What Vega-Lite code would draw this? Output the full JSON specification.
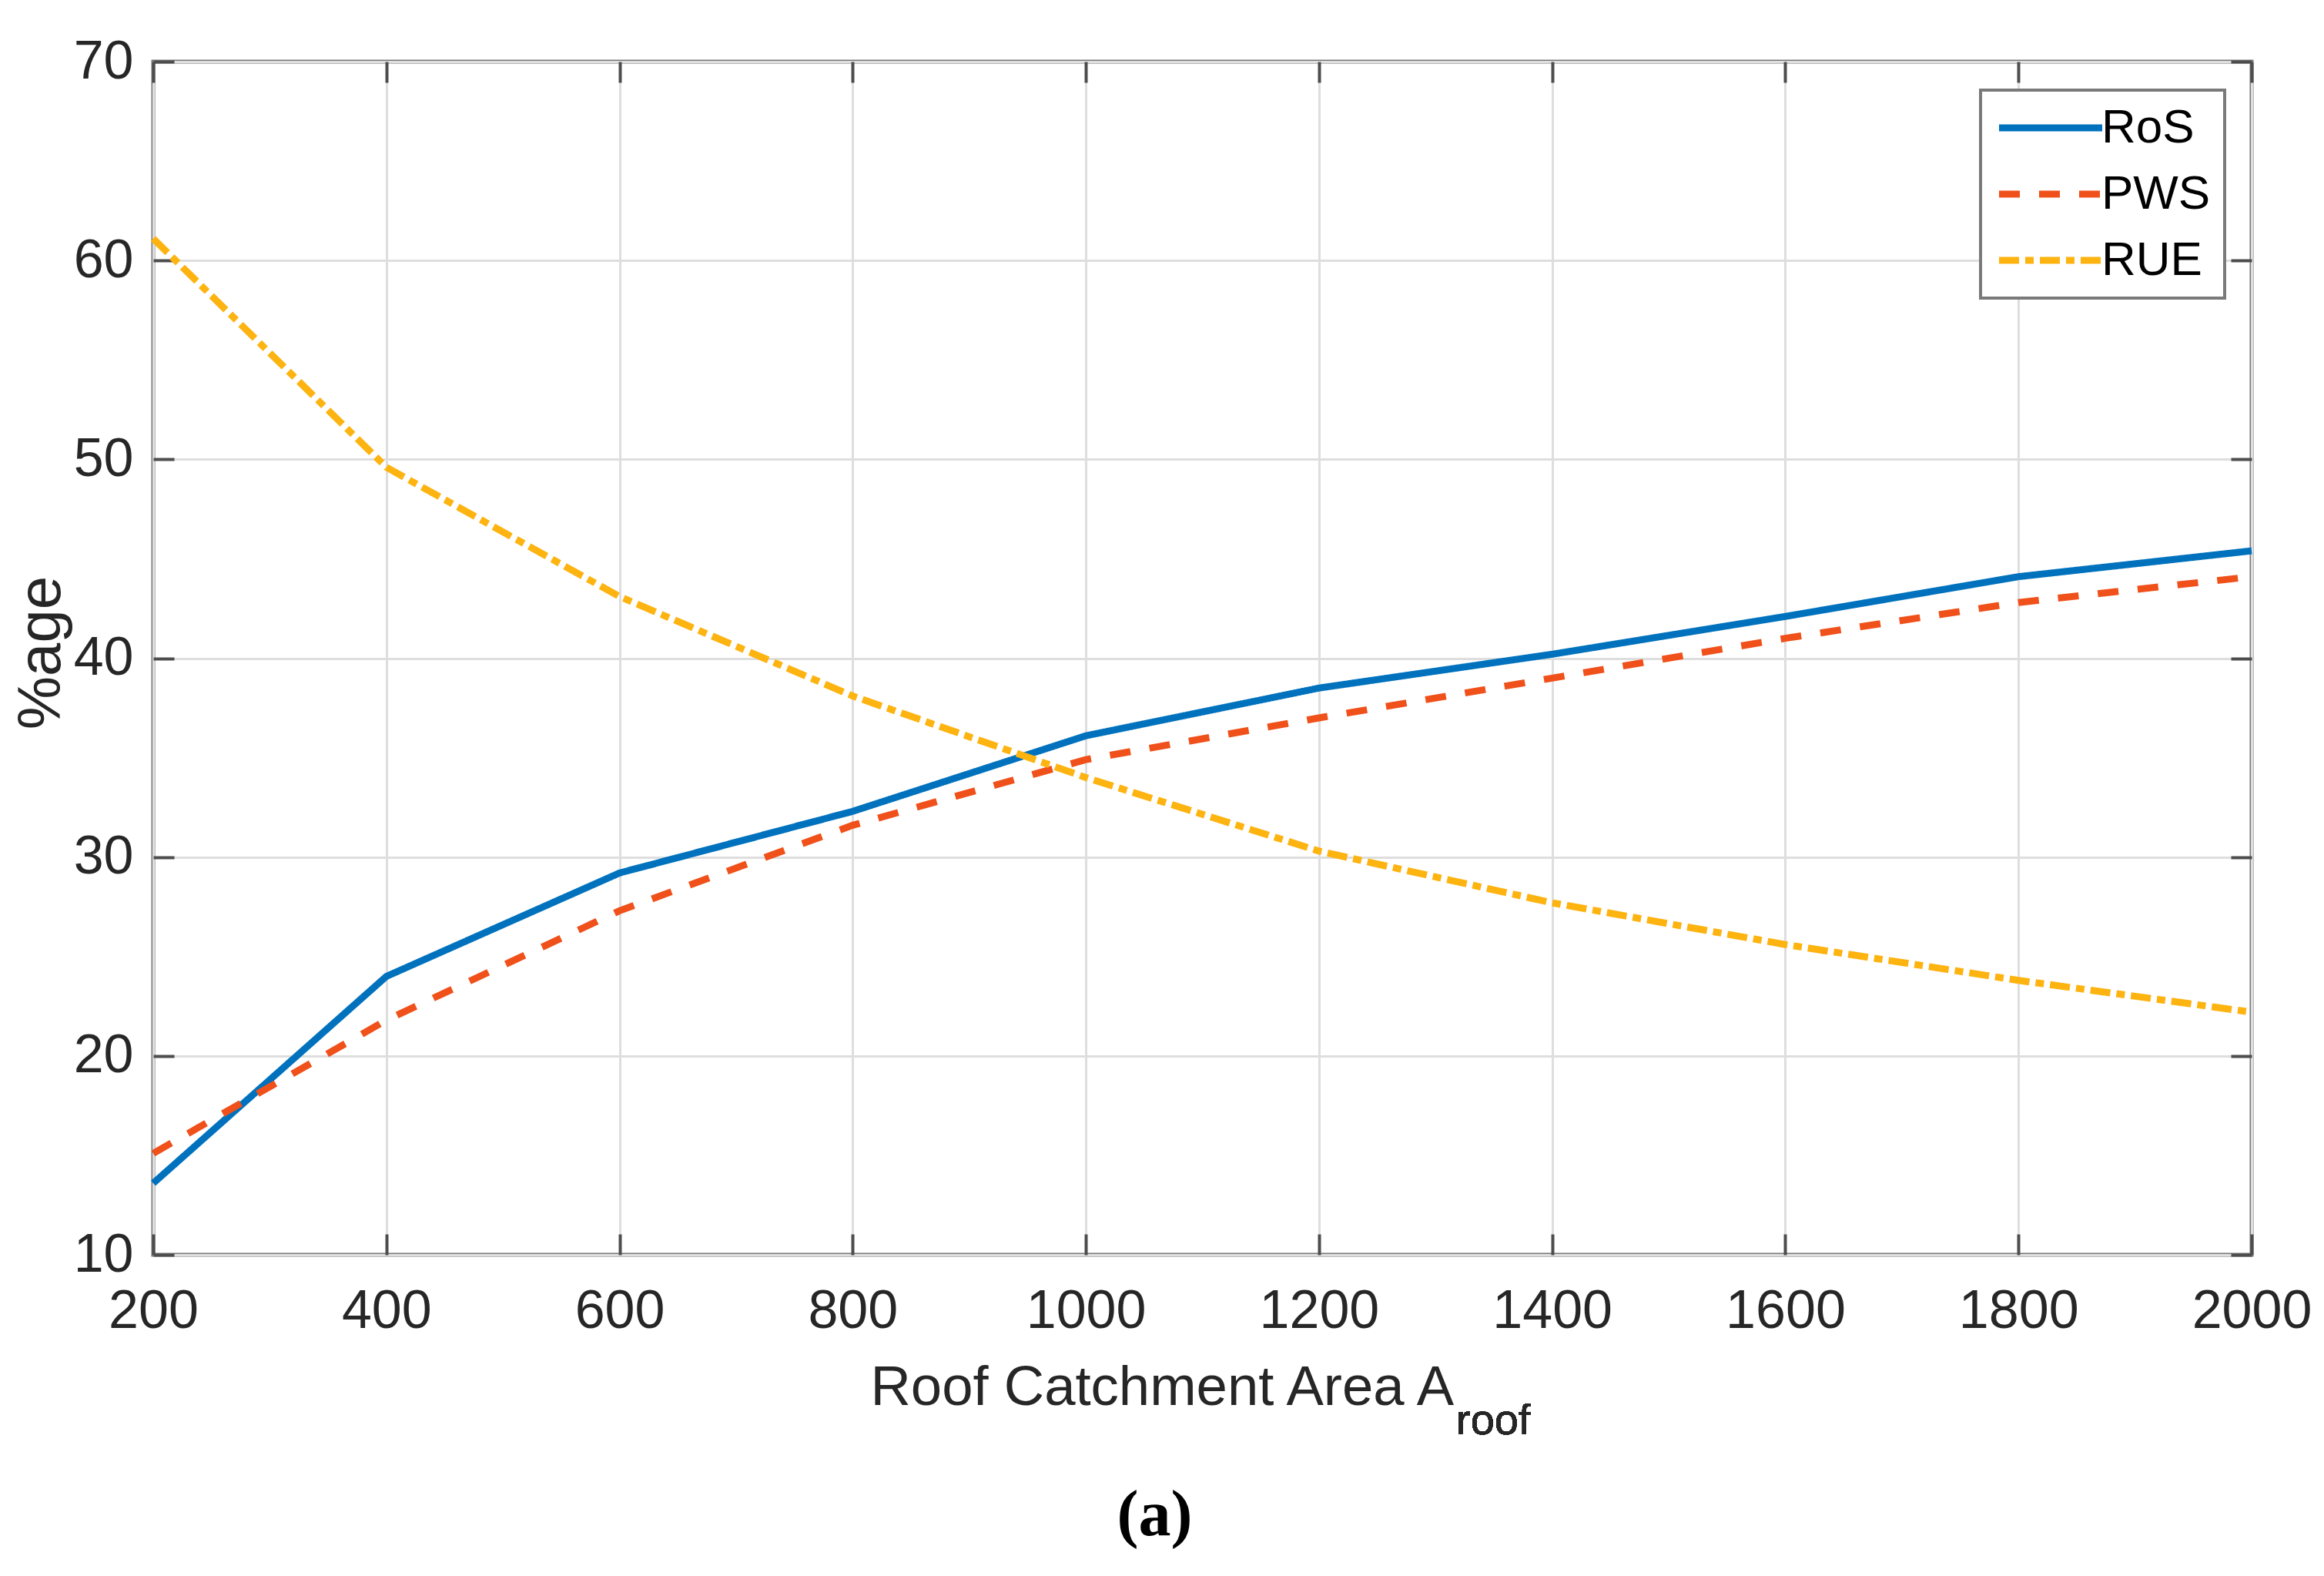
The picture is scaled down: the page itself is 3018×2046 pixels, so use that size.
{
  "$schema": "https://vega.github.io/schema/vega-lite/v6.json",
  "width": 2725,
  "height": 1549,
  "autosize": {"type": "none"},
  "padding": {"left": 199, "top": 80, "right": 94, "bottom": 417},
  "background": "white",
  "config": {
    "view": {"stroke": "#777777", "strokeWidth": 5},
    "font": "Liberation Sans",
    "legend": {"strokeWidth": 4}
  },
  "title": {
    "text": "(a)",
    "orient": "bottom",
    "anchor": "middle",
    "frame": "group",
    "font": "Liberation Serif",
    "fontSize": 84,
    "fontWeight": "bold",
    "color": "black",
    "dx": -62,
    "offset": 54
  },
  "data": {
    "values": [
      {"area": 200, "series": "RoS", "pct": 13.6},
      {"area": 400, "series": "RoS", "pct": 24.0},
      {"area": 600, "series": "RoS", "pct": 29.2},
      {"area": 800, "series": "RoS", "pct": 32.3},
      {"area": 1000, "series": "RoS", "pct": 36.1},
      {"area": 1200, "series": "RoS", "pct": 38.5},
      {"area": 1400, "series": "RoS", "pct": 40.2},
      {"area": 1600, "series": "RoS", "pct": 42.1},
      {"area": 1800, "series": "RoS", "pct": 44.1},
      {"area": 2000, "series": "RoS", "pct": 45.4},
      {"area": 200, "series": "PWS", "pct": 15.1},
      {"area": 400, "series": "PWS", "pct": 21.8},
      {"area": 600, "series": "PWS", "pct": 27.3},
      {"area": 800, "series": "PWS", "pct": 31.6},
      {"area": 1000, "series": "PWS", "pct": 34.9},
      {"area": 1200, "series": "PWS", "pct": 37.0},
      {"area": 1400, "series": "PWS", "pct": 39.0},
      {"area": 1600, "series": "PWS", "pct": 41.0},
      {"area": 1800, "series": "PWS", "pct": 42.8},
      {"area": 2000, "series": "PWS", "pct": 44.1},
      {"area": 200, "series": "RUE", "pct": 61.1},
      {"area": 400, "series": "RUE", "pct": 49.6},
      {"area": 600, "series": "RUE", "pct": 43.1},
      {"area": 800, "series": "RUE", "pct": 38.1},
      {"area": 1000, "series": "RUE", "pct": 34.0},
      {"area": 1200, "series": "RUE", "pct": 30.3},
      {"area": 1400, "series": "RUE", "pct": 27.7},
      {"area": 1600, "series": "RUE", "pct": 25.6},
      {"area": 1800, "series": "RUE", "pct": 23.8},
      {"area": 2000, "series": "RUE", "pct": 22.2}
    ]
  },
  "layer": [
    {
      "mark": {"type": "line", "strokeWidth": 9, "clip": false},
      "encoding": {
        "x": {
          "field": "area", "type": "quantitative",
          "scale": {"domain": [200, 2000], "nice": false, "zero": false},
          "axis": {
            "orient": "bottom",
            "values": [200, 400, 600, 800, 1000, 1200, 1400, 1600, 1800, 2000],
            "format": "d",
            "grid": true, "gridColor": "#dedede", "gridWidth": 3,
            "domain": false,
            "ticks": true, "tickSize": -27, "tickWidth": 4, "tickColor": "#4d4d4d",
            "labelFontSize": 70, "labelColor": "#262626", "labelPadding": 121,
            "labelBaseline": "alphabetic", "labelFlush": false, "labelOverlap": false,
            "title": "Roof Catchment Area A",
            "titleFontSize": 72.5, "titleFontWeight": "normal", "titleColor": "#262626",
            "titleX": 931, "titleY": 194, "titleAlign": "left", "titleBaseline": "alphabetic"
          }
        },
        "y": {
          "field": "pct", "type": "quantitative",
          "scale": {"domain": [10, 70], "nice": false, "zero": false},
          "axis": {
            "orient": "left",
            "values": [10, 20, 30, 40, 50, 60, 70],
            "format": "d",
            "grid": true, "gridColor": "#dedede", "gridWidth": 3,
            "domain": false,
            "ticks": true, "tickSize": -27, "tickWidth": 4, "tickColor": "#4d4d4d",
            "labelFontSize": 70, "labelColor": "#262626", "labelPadding": 53,
            "labelBaseline": "middle", "labelAlign": "right", "labelFlush": false, "labelOverlap": false,
            "title": "%age",
            "titleFontSize": 78, "titleFontWeight": "normal", "titleColor": "#262626",
            "titleX": -122, "titleY": 767, "titleAngle": 270, "titleAlign": "center", "titleBaseline": "alphabetic"
          }
        },
        "color": {
          "field": "series", "type": "nominal",
          "scale": {"domain": ["RoS", "PWS", "RUE"], "range": ["#0072BD", "#F0501A", "#FDB310"]},
          "legend": {
            "title": null, "orient": "none", "legendX": 2373, "legendY": 37,
            "fillColor": "white", "strokeColor": "#7a7a7a", "padding": 18,
            "symbolType": "M-1,0H4.36", "symbolSize": 2500, "symbolStrokeWidth": 9,
            "labelFontSize": 62, "labelOffset": 77, "labelColor": "black", "rowPadding": 24
          }
        },
        "strokeDash": {
          "field": "series", "type": "nominal",
          "scale": {"domain": ["RoS", "PWS", "RUE"], "range": [[1, 0], [27, 25], [26, 8, 11, 8]]},
          "legend": {
            "title": null, "orient": "none", "legendX": 2373, "legendY": 37,
            "fillColor": "white", "strokeColor": "#7a7a7a", "padding": 18,
            "symbolType": "M-1,0H4.36", "symbolSize": 2500, "symbolStrokeWidth": 9,
            "labelFontSize": 62, "labelOffset": 77, "labelColor": "black", "rowPadding": 24
          }
        }
      }
    },
    {
      "mark": {"type": "line", "strokeOpacity": 0, "clip": false},
      "encoding": {
        "x": {
          "field": "area", "type": "quantitative",
          "axis": {
            "orient": "top",
            "values": [200, 400, 600, 800, 1000, 1200, 1400, 1600, 1800, 2000],
            "grid": false, "domain": false, "labels": false, "title": null,
            "tickSize": -27, "tickWidth": 4, "tickColor": "#4d4d4d"
          }
        },
        "y": {
          "field": "pct", "type": "quantitative",
          "axis": {
            "orient": "right",
            "values": [10, 20, 30, 40, 50, 60, 70],
            "grid": false, "domain": false, "labels": false, "title": null,
            "tickSize": -27, "tickWidth": 4, "tickColor": "#4d4d4d"
          }
        },
        "detail": {"field": "series"}
      }
    },
    {
      "mark": {
        "type": "text", "text": "roof", "font": "Liberation Sans", "fontSize": 56,
        "align": "left", "baseline": "alphabetic", "dy": 233, "color": "#262626", "clip": false
      },
      "encoding": {
        "x": {"datum": 1317.7, "type": "quantitative", "axis": null},
        "y": {"datum": 10, "type": "quantitative", "axis": null}
      }
    }
  ],
  "resolve": {"axis": {"x": "independent", "y": "independent"}}
}
